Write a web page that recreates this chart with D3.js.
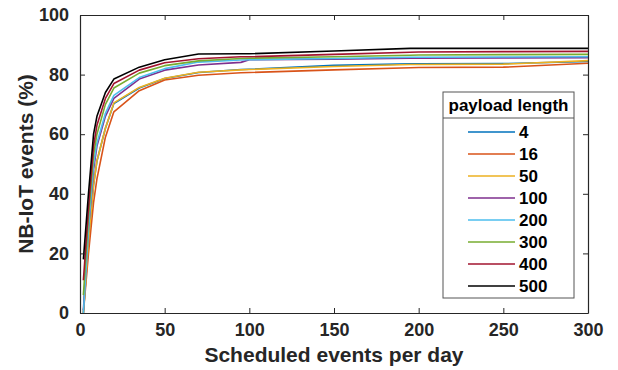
<!DOCTYPE html>
<html>
<head>
<meta charset="utf-8">
<script src="https://cdn.jsdelivr.net/npm/d3@7"></script>
<style>
  body { margin: 0; background: #fff; }
  svg { display: block; font-family: "Liberation Sans", Arial, Helvetica, sans-serif; }
</style>
</head>
<body>
<svg id="chart" width="618" height="370"></svg>
<script>
// Scheduled events per day (shared x for every series)
const eventsPerDay = [2, 5, 8, 10, 15, 20, 35, 50, 70, 95, 100, 150, 195, 200, 250, 300];

// NB-IoT events (%) per payload length
const p4   = [0, 24, 43, 51, 62, 70.3, 75.5, 78.7, 80.7, 81.7, 81.8, 83.1, 83.6, 83.6, 83.7, 84.4];
const p16  = [0, 20, 37, 45, 59, 67.5, 74.6, 78.2, 79.8, 80.6, 80.7, 81.6, 82.3, 82.4, 82.5, 83.8];
const p50  = [0, 24, 43, 51, 62, 70.5, 75.7, 78.8, 80.8, 81.6, 81.7, 82.7, 83.4, 83.4, 83.5, 84.7];
const p100 = [1, 28, 48, 56, 66, 72, 78.5, 81.5, 83.2, 84.1, 85, 85.2, 85.5, 85.5, 85.6, 85.7];
const p200 = [0, 28, 50, 57, 67, 73, 79, 82, 84.2, 84.9, 85, 85.4, 85.8, 85.8, 85.9, 86];
const p300 = [6, 32, 53, 60, 70, 75.5, 80.5, 83, 84.6, 85.4, 85.5, 86, 86.5, 86.6, 86.7, 86.8];
const p400 = [11, 35, 56, 63, 72, 77, 81.5, 84, 85.3, 86, 86, 86.8, 87.5, 87.6, 87.7, 87.8];
const p500 = [18, 40, 60, 66, 74, 78.5, 82.5, 85, 86.9, 87, 87, 87.9, 88.8, 88.8, 88.8, 88.8];

const payloadLabels = ['4', '16', '50', '100', '200', '300', '400', '500'];
const seriesValues = [p4, p16, p50, p100, p200, p300, p400, p500];
const seriesColors = ['#0072BD', '#D95319', '#EDB120', '#7E2F8E', '#4DBEEE', '#77AC30', '#A2142F', '#000000'];

const xTicks = [0, 50, 100, 150, 200, 250, 300];
const yTicks = [0, 20, 40, 60, 80, 100];

const svg = d3.select('#chart');
const axisColor = '#262626';

// plot area
const plotL = 80, plotR = 588, plotT = 15, plotB = 313;
const x = d3.scaleLinear().domain([0, 300]).range([plotL, plotR]);
const y = d3.scaleLinear().domain([0, 100]).range([plotB, plotT]);

// series lines (drawn first, frame on top)
const line = d3.line()
  .x((d, i) => x(eventsPerDay[i]))
  .y(d => y(d));

svg.append('g')
  .selectAll('path')
  .data(seriesValues)
  .enter()
  .append('path')
  .attr('d', d => line(d))
  .attr('fill', 'none')
  .attr('stroke', (d, i) => seriesColors[i])
  .attr('stroke-width', 1.6)
  .attr('stroke-linejoin', 'round');

// axes with inward ticks, box on
const tickLen = 5;
function styleAxis(g) {
  g.selectAll('.domain').attr('stroke', axisColor).attr('stroke-width', 1.2);
  g.selectAll('.tick line').attr('stroke', axisColor).attr('stroke-width', 1);
  g.selectAll('.tick text')
    .attr('fill', axisColor)
    .style('font-size', '18px')
    .style('font-weight', 'bold');
}

svg.append('g')
  .attr('transform', `translate(0,${plotB})`)
  .call(d3.axisBottom(x).tickValues(xTicks).tickSizeInner(-tickLen).tickSizeOuter(0).tickPadding(10))
  .call(styleAxis)
  .call(g => g.selectAll('.tick text').attr('dy', '0.71em'));

svg.append('g')
  .attr('transform', `translate(0,${plotT})`)
  .call(d3.axisTop(x).tickValues(xTicks).tickSizeInner(-tickLen).tickSizeOuter(0).tickFormat(''))
  .call(styleAxis);

svg.append('g')
  .attr('transform', `translate(${plotL},0)`)
  .call(d3.axisLeft(y).tickValues(yTicks).tickSizeInner(-tickLen).tickSizeOuter(0).tickPadding(11))
  .call(styleAxis);

svg.append('g')
  .attr('transform', `translate(${plotR},0)`)
  .call(d3.axisRight(y).tickValues(yTicks).tickSizeInner(-tickLen).tickSizeOuter(0).tickFormat(''))
  .call(styleAxis);

// axis labels
svg.append('text')
  .attr('x', (plotL + plotR) / 2)
  .attr('y', 362)
  .attr('text-anchor', 'middle')
  .attr('fill', axisColor)
  .style('font-size', '21px')
  .style('font-weight', 'bold')
  .text('Scheduled events per day');

svg.append('text')
  .attr('transform', `translate(33,${(plotT + plotB) / 2}) rotate(-90)`)
  .attr('text-anchor', 'middle')
  .attr('fill', axisColor)
  .style('font-size', '21px')
  .style('font-weight', 'bold')
  .text('NB-IoT events (%)');

// legend
const lg = svg.append('g');
const lgX = 443, lgY = 92, lgW = 131, lgH = 206, lgHeadH = 26, rowH = 22;
lg.append('rect')
  .attr('x', lgX).attr('y', lgY).attr('width', lgW).attr('height', lgH)
  .attr('fill', '#fff').attr('stroke', '#555').attr('stroke-width', 1);
lg.append('line')
  .attr('x1', lgX).attr('x2', lgX + lgW)
  .attr('y1', lgY + lgHeadH).attr('y2', lgY + lgHeadH)
  .attr('stroke', '#555').attr('stroke-width', 1);
lg.append('text')
  .attr('x', lgX + lgW / 2)
  .attr('y', lgY + 19)
  .attr('text-anchor', 'middle')
  .attr('fill', '#000')
  .style('font-size', '17px')
  .style('font-weight', 'bold')
  .text('payload length');

const items = lg.selectAll('.item')
  .data(payloadLabels)
  .enter()
  .append('g')
  .attr('class', 'item')
  .attr('transform', (d, i) => `translate(0,${lgY + 40 + i * rowH})`);
items.append('line')
  .attr('x1', 468).attr('x2', 515)
  .attr('stroke', (d, i) => seriesColors[i])
  .attr('stroke-width', 1.6);
items.append('text')
  .attr('x', 519)
  .attr('dy', '0.36em')
  .attr('fill', '#000')
  .style('font-size', '17px')
  .style('font-weight', 'bold')
  .text(d => d);
</script>
</body>
</html>
